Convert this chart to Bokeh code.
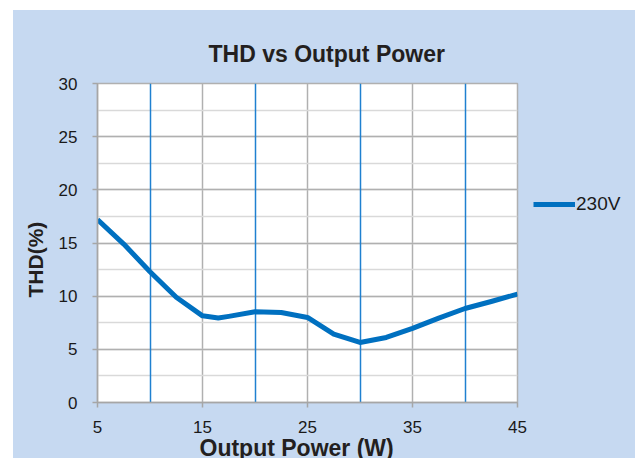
from bokeh.plotting import figure
from bokeh.models import (Range1d, FixedTicker, SingleIntervalTicker, Grid,
                          Legend, LegendItem, Spacer, Title)
from bokeh.layouts import row, column
from bokeh.embed import file_html
from bokeh.resources import INLINE

# data
power_w = [5, 7.5, 10, 12.5, 15, 16.5, 17.5, 20, 22.5, 25, 27.5, 30, 32.5, 35, 37.5, 40, 42.5, 45]
thd_230v = [17.2, 14.9, 12.3, 9.9, 8.15, 7.95, 8.1, 8.53, 8.47, 8.0, 6.44, 5.65, 6.12, 6.97, 7.94, 8.84, 9.5, 10.2]
x_ticks = [5, 15, 25, 35, 45]
x_blue_lines = [10, 20, 30, 40]
series_name = "230V"
title_text = "THD vs Output Power"
x_title = "Output Power (W)"
y_title = "THD(%)"

BG = "#c6d9f1"
FONT = "Liberation Sans"
LINE_COLOR = "#0070c0"
TXT = "#231f20"

p = figure(width=516, height=448, output_backend="svg", toolbar_location=None,
           x_range=Range1d(5, 45), y_range=Range1d(0, 30),
           min_border_left=84, min_border_right=12, min_border_top=73, min_border_bottom=56)
p.background_fill_color = "white"
p.border_fill_color = BG
p.outline_line_color = "#b0b0b0"
p.outline_line_width = 1.5

p.title.text = title_text
p.title.align = "left"
p.title.offset = 111
p.title.standoff = 34
p.title.text_font = FONT
p.title.text_font_style = "bold"
p.title.text_font_size = "23px"
p.title.text_color = TXT

p.xaxis.ticker = FixedTicker(ticks=x_ticks)
p.yaxis.ticker = SingleIntervalTicker(interval=5, num_minor_ticks=2)
for ax in (p.xaxis, p.yaxis):
    ax.axis_line_color = "#a6a6a6"
    ax.axis_line_width = 1.5
    ax.major_tick_line_color = "#a6a6a6"
    ax.major_tick_line_width = 1.5
    ax.major_tick_out = 5
    ax.major_tick_in = 0
    ax.minor_tick_line_color = None
    ax.major_label_text_font = FONT
    ax.major_label_text_font_size = "17px"
    ax.major_label_text_color = "#1a1a1a"
p.yaxis.major_label_standoff = 15
p.xaxis.major_label_standoff = 13

p.add_layout(Title(text=y_title, align="left", offset=105, standoff=17,
                   text_font=FONT, text_font_style="bold", text_font_size="21px",
                   text_color=TXT), "left")
p.add_layout(Title(text=x_title, align="left", offset=102, standoff=-5,
                   text_font=FONT, text_font_style="bold", text_font_size="23px",
                   text_color=TXT), "below")

p.xgrid.ticker = FixedTicker(ticks=x_ticks)
p.xgrid.grid_line_color = "#b0b0b0"
p.xgrid.grid_line_width = 1.5
p.ygrid.grid_line_color = "#b0b0b0"
p.ygrid.grid_line_width = 1.5
p.ygrid.minor_grid_line_color = "#d9d9d9"
p.ygrid.minor_grid_line_width = 1.5

blue_grid = Grid(dimension=0, ticker=FixedTicker(ticks=x_blue_lines),
                 grid_line_color="#1f80d0", grid_line_width=1.5)
p.add_layout(blue_grid)

r = p.line(power_w, thd_230v, line_width=5, color=LINE_COLOR, line_join="round")

# legend panel to the right of the plot area
p2 = figure(width=106, height=448, output_backend="svg", toolbar_location=None,
            x_axis_location=None, y_axis_location=None,
            min_border_left=0, min_border_right=0, min_border_top=0, min_border_bottom=0)
p2.background_fill_color = BG
p2.border_fill_color = BG
p2.outline_line_color = BG
p2.outline_line_width = 3
p2.grid.visible = False
r2 = p2.line(power_w, thd_230v, line_width=5, color=LINE_COLOR)
r2.visible = False
legend = Legend(items=[LegendItem(label=series_name, renderers=[r2])],
                location=(4, 187), padding=0, margin=0, glyph_width=42, glyph_height=20,
                label_standoff=1, border_line_color=None, background_fill_alpha=0,
                inactive_fill_alpha=0,
                label_text_font=FONT, label_text_font_size="19px", label_text_color="#1a1a1a")
p2.add_layout(legend)

inner = row(p, p2, styles={"background-color": BG})
layout = row(Spacer(width=13), column(Spacer(height=10), inner))
open("out.html", "w").write(file_html(layout, INLINE))
